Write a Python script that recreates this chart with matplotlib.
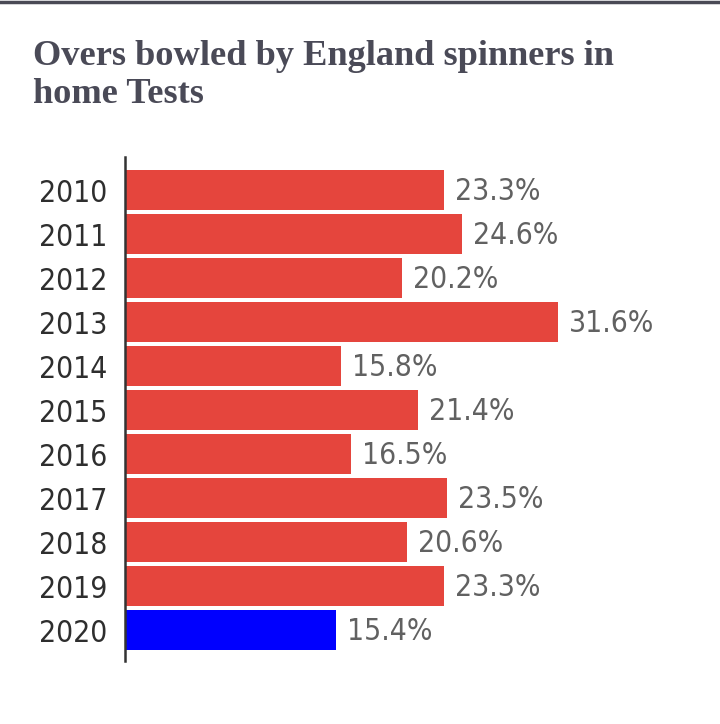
import matplotlib
matplotlib.use("Agg")
import matplotlib.pyplot as plt
import numpy as np

years = ["2010", "2011", "2012", "2013", "2014", "2015",
         "2016", "2017", "2018", "2019", "2020"]
share = [23.3, 24.6, 20.2, 31.6, 15.8, 21.4, 16.5, 23.5, 20.6, 23.3, 15.4]
highlight = "2020"
title_lines = ["Overs bowled by England spinners in", "home Tests"]

C_RED = "#e5453d"
C_BLUE = "#0000ff"
C_TITLE = "#4a4a57"

fig = plt.figure(figsize=(7.2, 7.24), dpi=100)
W, H = 720, 724

# thin dark rule along the top
fig.add_artist(plt.Line2D([0, 1], [1 - 1.5 / H, 1 - 1.5 / H], color="#4a4a55", linewidth=2.5))

for line, base in zip(title_lines, [65, 103]):
    fig.text(33 / W, 1 - base / H, line,
             family="Liberation Serif", fontweight="bold", fontsize=26.2,
             color=C_TITLE, va="baseline", ha="left")

ax = fig.add_axes([125 / W, (H - 661) / H, 548 / W, 504 / H])
ypos = np.arange(len(years))
colors = [C_BLUE if y == highlight else C_RED for y in years]
ax.barh(ypos, share, height=40 / 44, color=colors, linewidth=0)
ax.set_xlim(0, 40)
ax.set_ylim(10.70, -0.75)

for y, v in zip(ypos, share):
    ax.text(v + 0.8, y + 0.04, f"{v:.1f}%", va="center", ha="left", fontsize=21.5,
            color="#616161", family="DejaVu Sans", fontstretch="condensed")

ax.set_yticks(ypos)
ax.set_yticklabels(years, fontsize=21.5, color="#2e2e2e",
                   family="DejaVu Sans", fontstretch="condensed")
ax.tick_params(axis="y", length=0, pad=13)
ax.set_xticks([])
for s in ["top", "right", "bottom"]:
    ax.spines[s].set_visible(False)
ax.spines["left"].set_color("#333333")
ax.spines["left"].set_linewidth(1.8)

fig.savefig("out.png", dpi=100)
